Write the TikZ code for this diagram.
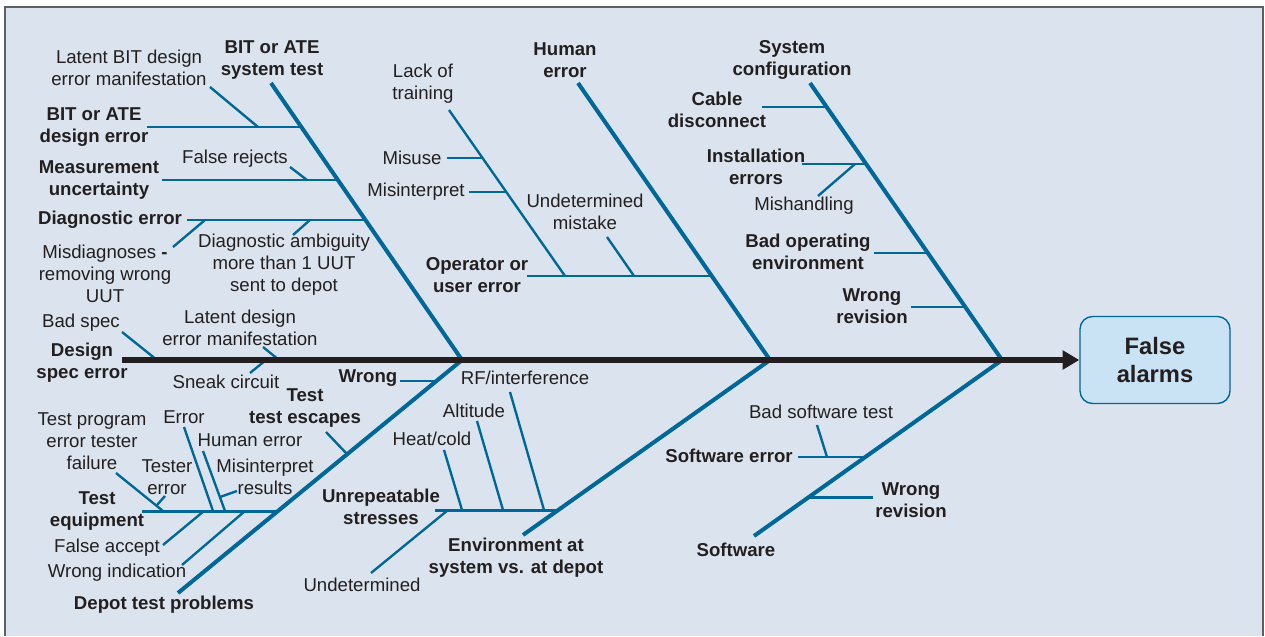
\documentclass[tikz,border=0pt]{standalone}
\usepackage{fontspec}
\setmainfont{Liberation Sans}
\usepackage{tikz}
\usetikzlibrary{arrows.meta}
\definecolor{paneblue}{RGB}{219,228,238}
\definecolor{boneblue}{RGB}{0,103,153}
\definecolor{inkblack}{RGB}{35,31,32}
\definecolor{framegray}{RGB}{95,95,95}
\definecolor{effectfill}{RGB}{201,226,244}

\begin{document}
\begin{tikzpicture}[x=0.02cm, y=-0.02cm, cause/.style={font=\fontsize{10.6}{12.6}\selectfont, text=inkblack, align=center, inner sep=0pt}, bigcause/.style={font=\fontsize{10.6}{12.6}\selectfont\bfseries, text=inkblack, align=center, inner sep=0pt}, effect/.style={rectangle, rounded corners=0.25cm, draw=boneblue, line width=0.8pt, fill=effectfill, minimum width=3cm, minimum height=1.74cm, align=center, font=\fontsize{13.5}{16}\selectfont\bfseries, text=inkblack}, spine/.style={draw=inkblack, line width=3.3pt}, bone/.style={draw=boneblue, line width=2.3pt}, rib/.style={draw=boneblue, line width=1.7pt}, twig/.style={draw=boneblue, line width=1.35pt}]

    \useasboundingbox (0,0) rectangle (1265,636);

    %Panel
    \fill[paneblue] (5,7) rectangle (1263,636);
    \draw[framegray, line width=1.2pt] (5,636) -- (5,7) -- (1263,7) -- (1263,636);

    %Nodes
    \node[effect](false_alarms) at (1155,360) {False\\alarms};

    \node[bigcause](sys_test) at (272,60) {BIT or ATE\\system test};
    \node[bigcause](human) at (565,60) {Human\\error};
    \node[bigcause](sys_config) at (792,60) {System\\configuration};
    \node[bigcause](depot) at (164,605) {Depot test problems};
    \node[bigcause](environment) at (516,558) {Environment at\\system vs. at depot};
    \node[bigcause](software) at (736,550) {Software};

    \node[bigcause](bit_design) at (94,127) {BIT or ATE\\design error};
    \node[cause](latent_bit) at (129,68) {Latent BIT design\\error manifestation};
    \node[bigcause](measurement) at (99,180) {Measurement\\uncertainty};
    \node[cause](false_rejects) at (235,159) {False rejects};
    \node[bigcause](diagnostic) at (110,220) {Diagnostic error};
    \node[cause](misdiagnoses) at (105,274) {Misdiagnoses \textbf{-}\\removing wrong\\UUT};
    \node[cause](ambiguity) at (284,265) {Diagnostic ambiguity\\more than 1 UUT\\sent to depot};

    \node[bigcause](design_spec) at (82,363) {Design\\spec error};
    \node[cause](bad_spec) at (81,323) {Bad spec};
    \node[cause](latent_design) at (240,328) {Latent design\\error manifestation};
    \node[cause](sneak) at (226,382) {Sneak circuit};

    \node[bigcause](operator) at (477,275) {Operator or\\user error};
    \node[cause](lack_training) at (423,84) {Lack of\\training};
    \node[cause](misuse) at (412,158) {Misuse};
    \node[cause](misinterpret) at (416,192) {Misinterpret};
    \node[cause](mistake) at (585,212) {Undetermined\\mistake};

    \node[bigcause](cable) at (717,110) {Cable\\disconnect};
    \node[bigcause](installation) at (756,167) {Installation\\errors};
    \node[cause](mishandling) at (804,206) {Mishandling};
    \node[bigcause](bad_env) at (808,252) {Bad operating\\environment};
    \node[bigcause](hw_revision) at (872,306) {Wrong\\revision};

    \node[bigcause](wrong) at (368,378) {Wrong};
    \node[bigcause](escapes) at (305,408) {Test\\test escapes};
    \node[bigcause](equipment) at (97,511) {Test\\equipment};
    \node[cause](test_program) at (92,441) {Test program\\error tester\\failure};
    \node[cause](tester_error) at (167,477) {Tester\\error};
    \node[cause](error) at (184,417) {Error};
    \node[cause](human_error) at (250,440) {Human error};
    \node[cause](misinterpret_res) at (265,477) {Misinterpret\\results};
    \node[cause](false_accept) at (107,548) {False accept};
    \node[cause](wrong_ind) at (117,573) {Wrong indication};

    \node[bigcause](unrepeatable) at (381,507) {Unrepeatable\\stresses};
    \node[cause](undetermined) at (362,585) {Undetermined};
    \node[cause](heat_cold) at (432,439) {Heat/cold};
    \node[cause](altitude) at (474,411) {Altitude};
    \node[cause](rf) at (525,378) {RF/interference};

    \node[bigcause](sw_error) at (729,456) {Software error};
    \node[cause](bad_sw) at (821,412) {Bad software test};
    \node[bigcause](sw_revision) at (911,500) {Wrong\\revision};

    %Bone ends
    \coordinate (spine_tail) at (122,360);
    \coordinate (test_head) at (462,360);
    \coordinate (human_head) at (770,360);
    \coordinate (config_head) at (1002,360);
    \coordinate (test_tip) at (271,83);
    \coordinate (human_tip) at (578,83);
    \coordinate (config_tip) at (810,83);
    \coordinate (depot_tip) at (178,593);
    \coordinate (env_tip) at (523,535);
    \coordinate (software_tip) at (754,536);

    \coordinate (bit_design_end) at (147,127); \coordinate (bit_design_j) at (301,127);
    \coordinate (latent_bit_end) at (210,87); \coordinate (latent_bit_j) at (258,127);
    \coordinate (measurement_end) at (162,180); \coordinate (measurement_j) at (338,180);
    \coordinate (false_rejects_end) at (290,167); \coordinate (false_rejects_j) at (307,180);
    \coordinate (diagnostic_end) at (187,220); \coordinate (diagnostic_j) at (365,220);
    \coordinate (misdiagnoses_end) at (173,247); \coordinate (misdiagnoses_j) at (205,220);
    \coordinate (ambiguity_end) at (293,235); \coordinate (ambiguity_j) at (310,220);

    \coordinate (bad_spec_end) at (122,332); \coordinate (bad_spec_j) at (157,360);
    \coordinate (latent_design_end) at (263,347); \coordinate (latent_design_j) at (279,360);
    \coordinate (sneak_end) at (250,373); \coordinate (sneak_j) at (266,360);

    \coordinate (operator_end) at (527,276); \coordinate (operator_j) at (712,276);
    \coordinate (lack_end) at (449,110); \coordinate (lack_j) at (565,276);
    \coordinate (misuse_end) at (447,158); \coordinate (misuse_j) at (483,158);
    \coordinate (misinterpret_end) at (469,192); \coordinate (misinterpret_j) at (506,192);
    \coordinate (mistake_end) at (607,237); \coordinate (mistake_j) at (634,276);

    \coordinate (cable_end) at (762,107); \coordinate (cable_j) at (827,107);
    \coordinate (installation_end) at (802,164); \coordinate (installation_j) at (866,164);
    \coordinate (mishandling_end) at (818,196); \coordinate (mishandling_j) at (855,164);
    \coordinate (bad_env_end) at (874,253); \coordinate (bad_env_j) at (927,253);
    \coordinate (hw_revision_end) at (911,307); \coordinate (hw_revision_j) at (964,307);

    \coordinate (wrong_end) at (400,381); \coordinate (wrong_j) at (436,381);
    \coordinate (escapes_end) at (326,432); \coordinate (escapes_j) at (347,454);
    \coordinate (equipment_end) at (142,511); \coordinate (equipment_j) at (278,511);
    \coordinate (test_program_end) at (116,473); \coordinate (test_program_j) at (163,511);
    \coordinate (tester_error_end) at (165,496); \coordinate (tester_error_j) at (157,505);
    \coordinate (error_end) at (184,427); \coordinate (error_j) at (213,511);
    \coordinate (human_error_end) at (203,451); \coordinate (human_error_j) at (225,511);
    \coordinate (misinterpret_res_end) at (237,491); \coordinate (misinterpret_res_j) at (220,497);
    \coordinate (false_accept_end) at (163,545); \coordinate (false_accept_j) at (204,511);
    \coordinate (wrong_ind_end) at (182,565); \coordinate (wrong_ind_j) at (245,511);

    \coordinate (unrepeatable_end) at (435,510); \coordinate (unrepeatable_j) at (558,510);
    \coordinate (undetermined_end) at (371,573); \coordinate (undetermined_j) at (448,510);
    \coordinate (heat_end) at (444,450); \coordinate (heat_j) at (462,510);
    \coordinate (altitude_end) at (477,421); \coordinate (altitude_j) at (503,510);
    \coordinate (rf_end) at (510,392); \coordinate (rf_j) at (544,510);

    \coordinate (sw_error_end) at (798,457); \coordinate (sw_error_j) at (865,457);
    \coordinate (bad_sw_end) at (817,425); \coordinate (bad_sw_j) at (827,457);
    \coordinate (sw_revision_end) at (873,497); \coordinate (sw_revision_j) at (809,497);

    %Lines
    \draw[bone] (test_tip) -- (test_head);
    \draw[bone] (human_tip) -- (human_head);
    \draw[bone] (config_tip) -- (config_head);
    \draw[bone] (depot_tip) -- (test_head);
    \draw[bone] (env_tip) -- (human_head);
    \draw[bone] (software_tip) -- (config_head);

    \draw[rib] (bit_design_end) -- (bit_design_j);
    \draw[twig] (latent_bit_end) -- (latent_bit_j);
    \draw[rib] (measurement_end) -- (measurement_j);
    \draw[twig] (false_rejects_end) -- (false_rejects_j);
    \draw[rib] (diagnostic_end) -- (diagnostic_j);
    \draw[twig] (misdiagnoses_end) -- (misdiagnoses_j);
    \draw[twig] (ambiguity_end) -- (ambiguity_j);

    \draw[twig] (bad_spec_end) -- (bad_spec_j);
    \draw[twig] (latent_design_end) -- (latent_design_j);
    \draw[twig] (sneak_end) -- (sneak_j);

    \draw[rib] (operator_end) -- (operator_j);
    \draw[twig] (lack_end) -- (lack_j);
    \draw[rib] (misuse_end) -- (misuse_j);
    \draw[rib] (misinterpret_end) -- (misinterpret_j);
    \draw[twig] (mistake_end) -- (mistake_j);

    \draw[rib] (cable_end) -- (cable_j);
    \draw[rib] (installation_end) -- (installation_j);
    \draw[twig] (mishandling_end) -- (mishandling_j);
    \draw[rib] (bad_env_end) -- (bad_env_j);
    \draw[rib] (hw_revision_end) -- (hw_revision_j);

    \draw[rib] (wrong_end) -- (wrong_j);
    \draw[twig] (escapes_end) -- (escapes_j);
    \draw[rib] (equipment_end) -- (equipment_j);
    \draw[twig] (test_program_end) -- (test_program_j);
    \draw[twig] (tester_error_end) -- (tester_error_j);
    \draw[twig] (error_end) -- (error_j);
    \draw[twig] (human_error_end) -- (human_error_j);
    \draw[twig] (misinterpret_res_end) -- (misinterpret_res_j);
    \draw[twig] (false_accept_end) -- (false_accept_j);
    \draw[twig] (wrong_ind_end) -- (wrong_ind_j);

    \draw[rib] (unrepeatable_end) -- (unrepeatable_j);
    \draw[twig] (undetermined_end) -- (undetermined_j);
    \draw[twig] (heat_end) -- (heat_j);
    \draw[twig] (altitude_end) -- (altitude_j);
    \draw[twig] (rf_end) -- (rf_j);

    \draw[rib] (sw_error_end) -- (sw_error_j);
    \draw[twig] (bad_sw_end) -- (bad_sw_j);
    \draw[rib] (sw_revision_j) -- (sw_revision_end);

    \draw[spine, -{Triangle[length=9.5pt, width=10.5pt]}] (spine_tail) -- (false_alarms.west);

\end{tikzpicture}
\end{document}
